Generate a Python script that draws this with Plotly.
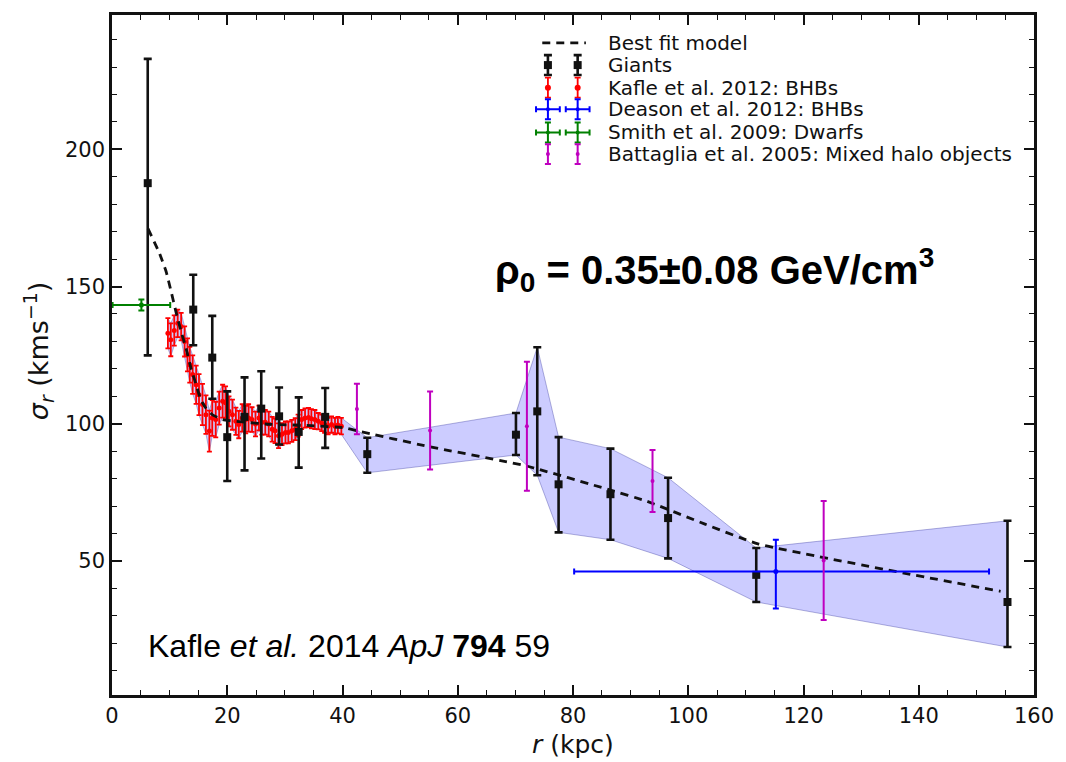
import plotly.graph_objects as go

# ---- Kafle et al. 2012 BHBs ----
red_r = [9.7, 10.2, 10.8, 11.4, 12.0, 12.6, 13.1, 13.5, 14.0, 14.6, 15.1, 15.7, 16.3, 16.9, 17.4, 18.0,
         18.6, 19.2, 19.7, 20.3, 20.9, 21.5, 22.0, 22.6, 23.2, 23.7, 24.3, 24.9, 25.5, 26.0, 26.6,
         27.2, 27.8, 28.3, 28.9, 29.5, 30.1, 30.6, 31.2, 31.8, 32.3, 32.9, 33.5, 34.1, 34.6, 35.2,
         35.8, 36.4, 36.9, 37.5, 38.1, 38.7, 39.2, 39.8]
red_s = [133.0, 130.6, 134.0, 136.6, 135.4, 130.0, 125.1, 121.5, 117.9, 114.2, 110.6, 107.0, 103.3, 97.3,
         102.1, 101.5, 105.7, 108.2, 107.6, 104.5, 103.3, 100.9, 99.7, 102.1, 101.5, 102.1, 101.5, 99.9,
         102.1, 100.5, 100.5, 99.9, 98.0, 97.4, 95.6, 96.2, 96.8, 96.8, 97.4, 98.0, 99.3, 101.5, 102.1,
         102.3, 101.8, 101.5, 100.9, 100.3, 99.7, 99.1, 99.7, 99.1, 99.5, 99.1]
red_e = [5.5, 6.0, 5.5, 5.0, 5.0, 5.5,
         6.0, 6.5, 7.0, 7.0, 7.5, 7.5, 7.0, 7.5, 6.5, 6.5,
         6.0, 6.0, 6.0, 5.5, 5.5, 5.0, 5.0, 5.0, 5.0, 5.0, 4.5, 4.5, 4.5, 4.5, 4.5,
         4.5, 4.5, 4.5, 4.5, 4.0, 4.0, 4.0, 4.0, 4.0, 4.0,
         3.5, 3.5, 3.5, 3.5, 3.5, 3.0, 3.0, 3.0, 3.0, 3.0, 3.0, 3.0, 3.0]

# ---- Giants ----
g_r = [6.2, 14.1, 17.4, 20.0, 23.0, 25.9, 29.0, 32.4, 37.0, 44.3, 70.1, 73.8, 77.5, 86.5, 96.5, 111.8, 155.4]
g_s = [187.7, 141.6, 124.1, 95.1, 102.5, 105.5, 102.7, 97.0, 102.5, 88.9, 96.0, 104.5, 77.9, 74.3, 65.6, 44.9, 35.0]
g_up = [45.3, 12.7, 15.2, 16.7, 14.4, 13.6, 10.5, 12.6, 10.5, 6.0, 7.9, 23.4, 17.2, 16.6, 14.7, 9.8, 29.6]
g_dn = [62.8, 13.0, 15.0, 16.0, 19.5, 18.2, 10.3, 13.0, 11.3, 6.8, 7.4, 23.3, 17.5, 16.6, 14.7, 9.9, 16.4]

# ---- Battaglia et al. 2005 ----
b_r = [42.5, 55.2, 72.0, 93.8, 123.5]
b_s = [105.4, 97.5, 99.1, 79.1, 50.1]
b_e = [9.2, 14.2, 23.5, 11.3, 21.7]

# ---- Deason et al. 2012 ----
d_r = [115.2]
d_s = [46.1]
d_xlo = [35.0]
d_xhi = [37.0]
d_up = [11.6]
d_dn = [13.5]

# ---- Smith et al. 2009 ----
s_r = [5.1]
s_s = [143.3]
s_xe = [5.0]
s_e = [2.0]

# ---- Best fit model ----
m_r = [6.25, 8.26, 9.4, 10.27, 11.1, 12.0, 12.85, 13.7, 14.6, 15.4, 16.3, 17.4, 19.2, 26.6, 34.6,
       40.4, 42.7, 54.7, 71.9, 86.5, 92.6, 102.9, 112.1, 154.2]
m_s = [171.1, 162.0, 155.4, 148.1, 140.8, 133.6, 127.5, 120.3, 114.2, 108.8, 105.7, 103.3, 101.5, 99.9,
       99.3, 98.5, 97.3, 91.8, 84.6, 75.8, 71.9, 63.4, 56.2, 38.9]

# Confidence band: BHB envelope inside 40 kpc, giants beyond
n_in = 9
band_r = red_r + g_r[n_in:]
band_hi = [s + e for s, e in zip(red_s, red_e)] + [s + e for s, e in zip(g_s[n_in:], g_up[n_in:])]
band_lo = [s - e for s, e in zip(red_s, red_e)] + [s - e for s, e in zip(g_s[n_in:], g_dn[n_in:])]

BLACK = "#111111"
RED = "#ff0000"
BLUE = "#0000ff"
GREEN = "#008000"
MAGENTA = "#bf00bf"

fig = go.Figure()

fig.add_trace(go.Scatter(
    x=band_r + band_r[::-1], y=band_hi + band_lo[::-1],
    fill="toself", fillcolor="rgba(0,0,255,0.2)",
    line=dict(color="rgba(40,40,150,0.35)", width=1),
    mode="lines", hoverinfo="skip", showlegend=False))

fig.add_trace(go.Scatter(
    x=red_r, y=red_s, mode="markers",
    marker=dict(symbol="circle", size=5, color=RED),
    error_y=dict(type="data", array=red_e, color=RED, thickness=1.8, width=2.5),
    showlegend=False))

fig.add_trace(go.Scatter(
    x=m_r, y=m_s, mode="lines", line=dict(color=BLACK, width=2.8, dash="8px,6px", shape="spline", smoothing=0.4),
    showlegend=False))

fig.add_trace(go.Scatter(
    x=g_r, y=g_s, mode="markers",
    marker=dict(symbol="square", size=8, color=BLACK),
    error_y=dict(type="data", array=g_up, arrayminus=g_dn, color=BLACK, thickness=2.6, width=4),
    showlegend=False))

fig.add_trace(go.Scatter(
    x=d_r, y=d_s, mode="markers",
    marker=dict(symbol="circle", size=5, color=BLUE),
    error_y=dict(type="data", array=d_up, arrayminus=d_dn, color=BLUE, thickness=2, width=3),
    error_x=dict(type="data", array=d_xhi, arrayminus=d_xlo, color=BLUE, thickness=2, width=3),
    showlegend=False))

fig.add_trace(go.Scatter(
    x=s_r, y=s_s, mode="markers",
    marker=dict(symbol="circle", size=5, color=GREEN),
    error_y=dict(type="data", array=s_e, color=GREEN, thickness=2, width=3),
    error_x=dict(type="data", array=s_xe, color=GREEN, thickness=2, width=3),
    showlegend=False))

fig.add_trace(go.Scatter(
    x=b_r, y=b_s, mode="markers",
    marker=dict(symbol="circle", size=4, color=MAGENTA),
    error_y=dict(type="data", array=b_e, color=MAGENTA, thickness=2, width=3),
    showlegend=False))

# ---- Legend drawn on an overlay axis spanning the plot area (0..1) ----
L, R, T, B = 112, 1042, 12, 695
W, H = R - L, B - T


def px(xp):
    return (xp - L) / W


def py(yp):
    return (B - yp) / H


leg_x = [px(551.7), px(581.7)]
rows = [40, 62.3, 85, 106.7, 130, 151.7]
labels = ["Best fit model", "Giants", "Kafle et al. 2012: BHBs", "Deason et al. 2012: BHBs",
          "Smith et al. 2009: Dwarfs", "Battaglia et al. 2005: Mixed halo objects"]
vbar = 10 / H
hbar = 12 / W

fig.add_trace(go.Scatter(
    x=[px(546), px(590)], y=[py(rows[0])] * 2, mode="lines",
    line=dict(color=BLACK, width=2.8, dash="8px,6px"),
    xaxis="x2", yaxis="y2", showlegend=False, hoverinfo="skip"))

leg_styles = [
    (BLACK, "square", 8, 2.6, 4, False),
    (RED, "circle", 6, 1.8, 3, False),
    (BLUE, "circle", 4, 2, 3, True),
    (GREEN, "circle", 4, 2, 3, True),
    (MAGENTA, "circle", 4, 2, 3, False),
]
for (col, sym, sz, th, cw, horiz), yrow in zip(leg_styles, rows[1:]):
    tr = dict(
        x=leg_x, y=[py(yrow)] * 2, mode="markers",
        marker=dict(symbol=sym, size=sz, color=col),
        error_y=dict(type="constant", value=vbar, color=col, thickness=th, width=cw),
        xaxis="x2", yaxis="y2", showlegend=False, hoverinfo="skip")
    if horiz:
        tr["error_x"] = dict(type="constant", value=hbar, color=col, thickness=th, width=cw)
    fig.add_trace(go.Scatter(**tr))

annotations = []
for lab, yrow in zip(labels, rows):
    annotations.append(dict(
        x=px(610), y=py(yrow), xref="paper", yref="paper", text=lab, showarrow=False,
        xanchor="left", yanchor="middle", font=dict(family="DejaVu Sans", size=20, color="#111")))

annotations += [
    dict(x=0.5, y=py(745), xref="paper", yref="paper", showarrow=False,
         text="<i>r</i> (kpc)", xanchor="center", yanchor="middle",
         font=dict(family="DejaVu Sans", size=25, color="#111")),
    dict(x=px(38), y=py(350), xref="paper", yref="paper", showarrow=False, textangle=-90,
         text="<i>σ</i><sub><i>r</i></sub> (kms<sup>−1</sup>)", xanchor="center", yanchor="middle",
         font=dict(family="DejaVu Sans", size=27, color="#111")),
    dict(x=px(720), y=py(268), xref="paper", yref="paper", showarrow=False,
         text="<b>ρ<sub>0</sub> = 0.35±0.08 GeV/cm<sup>3</sup></b>", xanchor="center", yanchor="middle",
         font=dict(family="Liberation Sans", size=40, color="#000")),
    dict(x=px(146), y=py(646), xref="paper", yref="paper", showarrow=False,
         text="Kafle <i>et al.</i> 2014 <i>ApJ</i> <b>794</b> 59", xanchor="left", yanchor="middle",
         font=dict(family="Liberation Sans", size=32, color="#000")),
]

axis_common = dict(
    showline=True, linecolor="#111", linewidth=2.5, mirror="allticks",
    ticks="inside", ticklen=10, tickwidth=1.5, tickcolor="#111",
    showgrid=False, zeroline=False,
    tickfont=dict(family="DejaVu Sans", size=21, color="#111"),
)

fig.update_layout(
    width=1066, height=762,
    margin=dict(l=L, r=1066 - R, t=T, b=762 - B),
    paper_bgcolor="white", plot_bgcolor="white",
    xaxis=dict(range=[0, 160], tickvals=[0, 20, 40, 60, 80, 100, 120, 140, 160],
               minor=dict(ticks="inside", ticklen=5, tickwidth=1.2, tickcolor="#111", dtick=5, tick0=0),
               **axis_common),
    yaxis=dict(range=[1.1, 249], tickvals=[50, 100, 150, 200],
               minor=dict(ticks="inside", ticklen=5, tickwidth=1.2, tickcolor="#111", dtick=10, tick0=0),
               **axis_common),
    xaxis2=dict(overlaying="x", anchor="y2", range=[0, 1], visible=False, fixedrange=True),
    yaxis2=dict(overlaying="y", anchor="x2", range=[0, 1], visible=False, fixedrange=True),
    annotations=annotations,
    showlegend=False,
)

fig.write_html("out.html")
